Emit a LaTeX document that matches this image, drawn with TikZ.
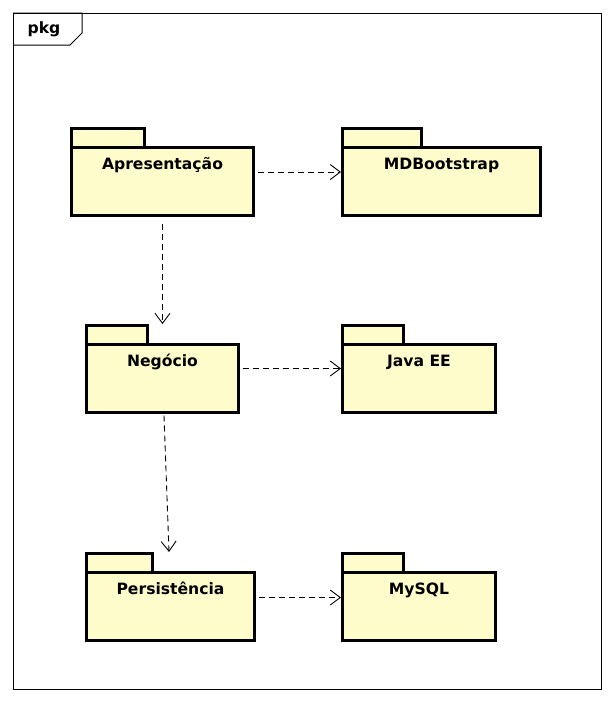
\documentclass[tikz,border=0pt]{standalone}
\usepackage{fontspec}
\setmainfont{DejaVu Sans}
\usetikzlibrary{arrows.meta}

\definecolor{pkgfill}{HTML}{FFFCCB}

\tikzstyle{pkgbody} = [draw, fill=pkgfill, line width=3pt, inner sep=0pt, outer sep=0pt, anchor=north west,
    minimum height=68, text height=22pt, text depth=46pt, font=\bfseries\fontsize{15.6}{18}\selectfont]
\tikzstyle{pkgtab} = [draw, fill=pkgfill, line width=3pt, inner sep=0pt, outer sep=0pt,
    minimum height=19, anchor=south west]
\tikzstyle{dep} = [dash pattern=on 6pt off 4pt, line width=0.9pt,
    -{Straight Barb[length=10pt,width=15pt,line width=0.9pt]}]
\tikzstyle{frame} = [draw, line width=1pt, inner sep=0pt]

\begin{document}
\begin{tikzpicture}[x=1pt, y=-1pt]
\useasboundingbox (0,0) rectangle (614,702);
% frame
\node[frame, minimum width=588, minimum height=676, anchor=north west] (frame) at (13,13) {};
\draw[line width=1pt] (frame.north west) -- (82,13) -- (82,33) -- (70,45) -- (13,45);
\node[font=\bfseries\fontsize{15.6}{18}\selectfont] (pkg) at (44,29) {pkg};

% packages
\node[pkgtab, minimum width=73] (apres-tab) at (71.5,147.5) {};
\node[pkgbody, minimum width=182] (apres) at (apres-tab.south west) {Apresentação};
\node[pkgtab, minimum width=79] (mdb-tab) at (342.5,147.5) {};
\node[pkgbody, minimum width=198] (mdb) at (mdb-tab.south west) {MDBootstrap};

\node[pkgtab, minimum width=61] (neg-tab) at (86.5,344.5) {};
\node[pkgbody, minimum width=152] (neg) at (neg-tab.south west) {Negócio};
\node[pkgtab, minimum width=61] (java-tab) at (342.5,344.5) {};
\node[pkgbody, minimum width=153] (java) at (java-tab.south west) {Java EE};

\node[pkgtab, minimum width=66] (pers-tab) at (86.5,572.5) {};
\node[pkgbody, minimum width=168] (pers) at (pers-tab.south west) {Persistência};
\node[pkgtab, minimum width=61] (mysql-tab) at (342.5,572.5) {};
\node[pkgbody, minimum width=153] (mysql) at (mysql-tab.south west) {MySQL};

% dependencies
\draw[dep] ([xshift=4pt,yshift=9.5pt]apres.east) -- ([xshift=-1.5pt,yshift=9.5pt]mdb.west);
\draw[dep] ([yshift=-8pt]apres.south) -- ([yshift=1.5pt]apres.south |- neg-tab.north);
\draw[dep] ([xshift=1.5pt,yshift=-3pt]neg.south) -- ([xshift=-1.5pt,yshift=1.5pt]pers.north |- pers-tab.north);
\draw[dep] ([xshift=4pt,yshift=10pt]neg.east) -- ([xshift=-1.5pt,yshift=10pt]java.west);
\draw[dep] ([xshift=4pt,yshift=9pt]pers.east) -- ([xshift=-1.5pt,yshift=9pt]mysql.west);
\end{tikzpicture}
\end{document}
